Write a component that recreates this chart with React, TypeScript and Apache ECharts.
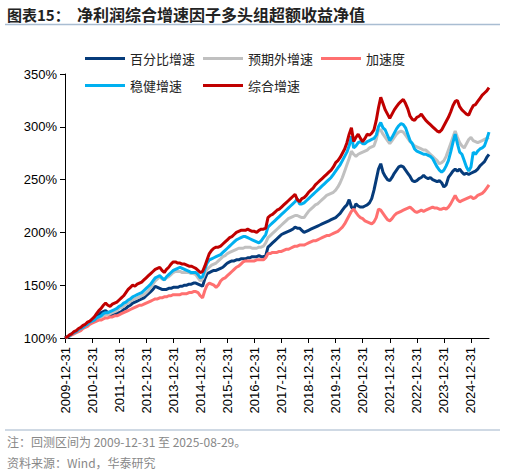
import { useEffect, useRef } from 'react'
import * as echarts from 'echarts'

// month-end dates, 2009-12-31 .. 2025-08-29
const dates: string[] = ['2009-12-31']
for (let y = 2010; y <= 2025; y++) {
  for (let m = 1; m <= 12; m++) {
    if (y === 2025 && m === 8) { dates.push('2025-08-29'); break }
    const d = new Date(Date.UTC(y, m, 0)).getUTCDate()
    dates.push(`${y}-${String(m).padStart(2, '0')}-${d}`)
  }
}

const seriesNames = ['百分比增速', '预期外增速', '加速度', '稳健增速', '综合增速']
const seriesColors = ['#063b7a', '#c0c0c0', '#ff7070', '#00b0f0', '#c00000']
const yTicks = [100, 150, 200, 250, 300, 350]

// net value in %, one row per year
const pctGrowth = [
  100,
  101, 102, 104, 105, 106, 108, 109, 110, 112, 113, 115, 116,
  118, 120, 122, 124, 125, 126, 124, 122, 122, 123, 123, 124,
  125, 127, 128, 130, 131, 133, 134, 135, 136, 137, 138, 140,
  142, 144, 146, 149, 148, 147, 146, 146, 146, 147, 147, 148,
  148, 148, 149, 149, 150, 150, 151, 151, 152, 152, 151, 150,
  149, 156, 161, 162, 163, 164, 164, 165, 166, 167, 169, 171,
  172, 173, 173, 174, 174, 175, 175, 175, 176, 176, 177, 177,
  177, 178, 177, 177, 178, 186, 188, 190, 192, 194, 196, 198,
  199, 200, 201, 202, 203, 205, 204, 204, 202, 200, 201, 202,
  203, 204, 205, 206, 207, 208, 209, 210, 211, 212, 213, 214,
  216, 218, 221, 224, 226, 231, 224, 222, 227, 225, 224, 224,
  225, 226, 228, 232, 240, 250, 260, 265, 257, 253, 250, 249,
  252, 256, 259, 262, 263, 262, 259, 256, 253, 249, 248, 249,
  251, 252, 254, 252, 251, 252, 250, 249, 248, 249, 247, 243,
  245, 252, 255, 258, 260, 258, 260, 257, 255, 256, 255, 256,
  257, 258, 260, 263, 265, 267, 271, 274,
]

const surpriseGrowth = [
  100,
  101, 102, 104, 105, 106, 108, 109, 110, 112, 113, 114, 116,
  117, 118, 119, 120, 121, 122, 122, 123, 124, 125, 126, 128,
  129, 130, 132, 133, 135, 136, 137, 138, 139, 140, 141, 143,
  145, 148, 151, 154, 156, 158, 156, 155, 157, 158, 160, 162,
  163, 163, 163, 162, 162, 162, 162, 161, 161, 160, 157, 154,
  156, 161, 165, 167, 169, 170, 171, 173, 175, 177, 178, 180,
  181, 182, 183, 184, 185, 185, 185, 186, 186, 186, 185, 185,
  185, 186, 186, 187, 190, 195, 197, 199, 201, 203, 205, 207,
  209, 211, 213, 214, 215, 216, 216, 215, 214, 214, 217, 220,
  222, 224, 226, 227, 229, 231, 233, 235, 236, 237, 238, 240,
  243, 247, 252, 258, 264, 270, 277, 274, 272, 274, 275, 276,
  277, 278, 280, 281, 282, 288, 297, 297, 293, 290, 287, 284,
  287, 290, 293, 295, 296, 295, 292, 289, 286, 284, 282, 281,
  280, 279, 278, 278, 276, 274, 272, 270, 268, 265, 266, 268,
  272, 278, 284, 290, 296, 290, 285, 282, 280, 284, 288, 290,
  287, 286, 285, 286, 287, 288, 289, 290,
]

const acceleration = [
  100,
  101, 102, 103, 104, 105, 106, 107, 109, 110, 111, 113, 114,
  115, 116, 117, 117, 118, 119, 119, 120, 120, 121, 121, 122,
  123, 124, 125, 126, 127, 128, 129, 130, 131, 131, 132, 133,
  134, 135, 136, 137, 137, 138, 138, 139, 139, 140, 140, 141,
  141, 141, 141, 142, 142, 142, 143, 143, 144, 144, 143, 140,
  138, 145, 150, 152, 151, 150, 148, 150, 154, 156, 157, 159,
  161, 163, 165, 167, 168, 170, 172, 173, 173, 173, 173, 173,
  174, 174, 174, 174, 176, 180, 180, 181, 181, 181, 182, 182,
  183, 184, 184, 185, 186, 187, 187, 188, 188, 188, 189, 190,
  191, 192, 192, 193, 194, 195, 196, 197, 197, 198, 199, 200,
  201, 203, 205, 208, 212, 216, 220, 222, 219, 216, 214, 213,
  211, 210, 209, 208, 210, 214, 222, 221, 218, 215, 212, 211,
  213, 216, 218, 219, 220, 221, 222, 223, 224, 222, 220, 219,
  220, 221, 220, 221, 222, 223, 224, 223, 223, 222, 222, 223,
  222, 224, 227, 231, 235, 231, 229, 230, 231, 232, 233, 234,
  232, 233, 235, 236, 237, 239, 242, 245,
]

const steadyGrowth = [
  100,
  101, 102, 104, 105, 106, 108, 109, 110, 112, 113, 115, 116,
  117, 119, 120, 121, 123, 124, 124, 125, 126, 127, 128, 130,
  131, 133, 134, 136, 137, 139, 140, 141, 142, 143, 145, 147,
  149, 151, 154, 157, 158, 159, 157, 155, 158, 160, 162, 164,
  165, 166, 167, 166, 165, 164, 163, 162, 162, 162, 160, 157,
  158, 165, 171, 174, 175, 176, 177, 178, 179, 181, 183, 185,
  187, 189, 191, 193, 194, 195, 196, 196, 195, 194, 193, 192,
  191, 190, 192, 195, 198, 205, 207, 209, 211, 213, 215, 217,
  219, 221, 223, 225, 227, 229, 232, 227, 227, 228, 230, 232,
  234, 236, 238, 240, 242, 244, 246, 248, 250, 252, 255, 258,
  261, 264, 268, 272, 276, 282, 291, 280, 282, 285, 286, 284,
  284, 286, 287, 288, 289, 292, 300, 304, 299, 297, 292, 287,
  290, 294, 298, 301, 303, 302, 299, 293, 287, 284, 279, 277,
  276, 275, 274, 274, 273, 272, 270, 266, 262, 259, 257, 259,
  263, 268, 276, 285, 293, 284, 276, 274, 268, 262, 258, 262,
  276, 274, 277, 279, 280, 282, 288, 295,
]

const compositeGrowth = [
  100,
  101, 103, 104, 106, 107, 109, 110, 112, 113, 115, 116, 118,
  120, 123, 126, 128, 131, 133, 131, 130, 132, 133, 134, 136,
  138, 140, 143, 146, 148, 150, 149, 151, 152, 153, 155, 157,
  159, 161, 163, 165, 166, 167, 164, 162, 165, 167, 170, 172,
  172, 171, 171, 170, 170, 169, 168, 168, 167, 166, 164, 162,
  163, 168, 174, 180, 183, 185, 186, 186, 187, 189, 191, 193,
  195, 196, 198, 200, 201, 202, 202, 202, 203, 202, 201, 201,
  200, 202, 203, 203, 204, 214, 216, 217, 219, 221, 222, 224,
  226, 228, 230, 232, 234, 236, 231, 229, 232, 233, 235, 238,
  240, 242, 245, 247, 249, 251, 253, 255, 257, 259, 262, 266,
  268, 271, 275, 279, 285, 293, 299, 286, 290, 293, 289, 286,
  289, 293, 292, 294, 297, 306, 318, 328, 322, 316, 312, 308,
  312, 316, 319, 322, 324, 326, 322, 317, 310, 307, 306, 309,
  310, 312, 309, 306, 304, 302, 300, 298, 296, 295, 297, 301,
  305, 309, 314, 320, 324, 325, 319, 316, 314, 312, 311, 316,
  320, 321, 324, 327, 330, 332, 334, 337,
]

const seriesData = [pctGrowth, surpriseGrowth, acceleration, steadyGrowth, compositeGrowth]

const CJK = '"Noto Sans CJK SC", "Noto Sans", sans-serif'
const LATIN = '"Liberation Sans", Arial, sans-serif'

export default function App() {
  const ref = useRef<HTMLDivElement>(null)

  useEffect(() => {
    if (!ref.current) return
    const chart = echarts.init(ref.current, null, { renderer: 'svg' })
    const isYearEnd = (_i: number, v: string) => v.endsWith('-12-31')

    chart.setOption({
      animation: false,
      backgroundColor: '#fff',
      graphic: [
        {
          type: 'text', left: 7, top: 7,
          style: { text: '图表15：', font: `bold 15px ${CJK}`, fill: '#222' },
        },
        {
          type: 'text', left: 77, top: 6,
          style: { text: '净利润综合增速因子多头组超额收益净值', font: `bold 16px ${CJK}`, fill: '#222' },
        },
        {
          type: 'line', shape: { x1: 5, y1: 24.5, x2: 500, y2: 24.5 },
          style: { stroke: '#a9bdd2', lineWidth: 1.5 },
        },
        {
          type: 'line', shape: { x1: 5, y1: 430, x2: 500, y2: 430 },
          style: { stroke: '#cfd9e4', lineWidth: 2 },
        },
        {
          type: 'text', left: 7, top: 435,
          style: { text: '注：回测区间为 2009-12-31 至 2025-08-29。', font: `12px ${CJK}`, fill: '#888' },
        },
        {
          type: 'text', left: 7, top: 456,
          style: { text: '资料来源：Wind，华泰研究', font: `12px ${CJK}`, fill: '#888' },
        },
      ],
      legend: [
        {
          data: seriesNames.slice(0, 3), left: 80, top: 47,
          icon: 'rect', itemWidth: 40, itemHeight: 3, itemGap: 8,
          textStyle: { fontFamily: CJK, fontSize: 13, color: '#222' },
        },
        {
          data: seriesNames.slice(3), left: 80, top: 74,
          icon: 'rect', itemWidth: 40, itemHeight: 3, itemGap: 21,
          textStyle: { fontFamily: CJK, fontSize: 13, color: '#222' },
        },
      ],
      grid: { left: 65, right: 16, top: 74, bottom: 137 },
      xAxis: {
        type: 'category',
        data: dates,
        boundaryGap: false,
        axisLine: { lineStyle: { color: '#000', width: 1 } },
        axisTick: { interval: isYearEnd, length: 5, lineStyle: { color: '#000' } },
        axisLabel: {
          interval: isYearEnd, rotate: 90, margin: 9,
          fontFamily: LATIN, fontSize: 13, color: '#000',
        },
        splitLine: { show: false },
      },
      yAxis: {
        type: 'value',
        min: yTicks[0], max: yTicks[yTicks.length - 1], interval: 50,
        axisLine: { show: true, lineStyle: { color: '#000', width: 1 } },
        axisTick: { show: true, length: 5, lineStyle: { color: '#000' } },
        axisLabel: { formatter: (v: number) => `${v}%`, fontFamily: LATIN, fontSize: 13, color: '#000', margin: 8 },
        splitLine: { show: false },
      },
      series: seriesNames.map((name, i) => ({
        name,
        type: 'line',
        data: seriesData[i],
        symbol: 'none',
        itemStyle: { color: seriesColors[i] },
        lineStyle: { color: seriesColors[i], width: 3 },
      })),
    })

    return () => chart.dispose()
  }, [])

  return <div ref={ref} style={{ position: 'fixed', left: 0, top: 0, width: 505, height: 475 }} />
}
